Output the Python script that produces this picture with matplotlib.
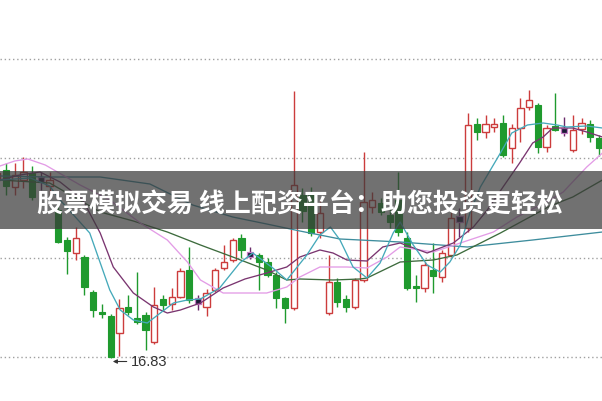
import matplotlib
matplotlib.use('Agg')
import matplotlib.pyplot as plt
from matplotlib.patches import Rectangle
import numpy as np

# ---------------- data ----------------
first_index = -1
opens = [20.39, 20.59, 20.25, 20.39, 20.53, 20.45, 20.27, 19.79, 19.19, 18.93, 18.85,
         18.15, 17.75, 17.67, 17.33, 17.85, 17.63, 17.69, 17.15, 18.01, 17.91,
         18.05, 18.59, 18.03, 17.85, 18.19, 18.63, 18.79, 19.23, 18.95, 18.89,
         18.75, 18.49, 18.03, 17.83, 20.09, 20.09, 19.35, 17.73, 18.35, 18.01,
         17.85, 18.39, 19.85, 19.93, 19.69, 19.99, 19.23, 18.27, 18.23, 18.59,
         18.45, 18.89, 19.67, 19.43, 21.51, 21.35, 21.45, 21.53, 21.03, 21.43,
         21.85, 21.89, 21.05, 21.47, 21.43, 20.99, 21.41, 21.51, 21.23]
highs = [20.63, 20.73, 20.73, 20.85, 20.67, 20.55, 20.55, 19.89, 19.25, 19.45, 18.89,
         18.19, 17.91, 17.71, 18.01, 18.09, 18.55, 17.75, 18.25, 18.09, 18.23,
         18.63, 19.05, 18.09, 18.21, 18.63, 19.09, 19.23, 19.31, 19.05, 18.93,
         18.83, 18.55, 18.05, 22.17, 20.23, 20.25, 19.99, 18.89, 18.43, 18.09,
         18.43, 20.95, 20.15, 20.03, 19.83, 20.55, 19.35, 18.49, 18.75, 19.13,
         18.99, 19.75, 19.83, 21.73, 21.63, 21.69, 21.63, 21.69, 21.51, 22.03,
         22.19, 21.93, 21.49, 22.13, 21.65, 21.69, 21.63, 21.59, 21.29]
lows = [20.29, 20.09, 20.09, 20.23, 19.99, 20.19, 20.09, 19.13, 18.51, 18.79, 18.09,
        17.65, 17.63, 16.83, 16.87, 17.69, 17.51, 16.99, 17.11, 17.77, 17.79,
        18.03, 17.93, 17.79, 17.67, 18.15, 18.59, 18.75, 18.83, 18.81, 18.19,
        18.45, 17.83, 17.53, 17.79, 19.55, 19.27, 19.23, 17.69, 17.85, 17.75,
        17.81, 18.35, 19.73, 19.69, 19.43, 19.27, 18.19, 17.95, 18.15, 18.13,
        18.35, 18.85, 19.25, 19.35, 21.19, 21.23, 21.35, 20.85, 20.73, 21.15,
        21.79, 20.93, 20.95, 21.37, 21.27, 20.95, 21.31, 21.15, 20.87]
closes = [20.53, 20.27, 20.49, 20.55, 20.05, 20.35, 20.39, 19.15, 18.97, 19.23, 18.25,
          17.79, 17.71, 16.85, 17.83, 17.75, 17.55, 17.39, 17.89, 17.89, 18.05,
          18.57, 17.99, 17.91, 18.13, 18.59, 18.75, 19.19, 18.99, 18.85, 18.75,
          18.49, 18.03, 17.83, 20.29, 19.77, 19.33, 19.73, 18.35, 17.95, 17.85,
          18.39, 19.95, 19.99, 19.75, 19.55, 19.35, 18.23, 18.23, 18.69, 18.47,
          18.93, 19.63, 19.55, 21.49, 21.35, 21.51, 21.51, 20.89, 21.43, 21.83,
          21.99, 21.05, 21.43, 21.39, 21.33, 21.39, 21.53, 21.25, 21.03]
marked_days = [4, 22, 28, 52, 64]

ma5_x = [-0.7, 2.8, 5.0, 6.2, 9.6, 11.9, 13.1, 14.6, 16.2, 17.7, 19.2, 20.8, 22.3, 24.5,
         26.8, 28.3, 30.6, 32.2, 34.5, 36.0, 37.2, 38.3, 39.8, 41.4, 42.9, 44.4, 45.2,
         46.7, 48.3, 49.8, 50.9, 52.1, 53.2, 54.4, 56.7, 58.0, 59.8, 61.6, 63.2, 64.3,
         66.6, 68.4]
ma5_y = [20.39, 20.43, 20.27, 19.99, 19.33, 18.19, 17.79, 17.59, 17.53, 17.73, 17.93,
         17.99, 18.01, 18.23, 18.73, 18.93, 18.63, 18.39, 18.89, 19.29, 19.45, 19.19,
         18.65, 18.43, 18.73, 19.33, 19.55, 19.09, 18.69, 18.55, 18.75, 19.09, 19.73,
         20.25, 20.93, 21.33, 21.49, 21.53, 21.49, 21.45, 21.47, 21.43]

ma10_x = [-0.7, 1.6, 3.9, 6.2, 8.8, 10.8, 12.3, 14.6, 16.9, 18.5, 20.0, 22.3, 24.9, 27.4,
          29.9, 32.2, 33.7, 36.0, 37.5, 39.1, 41.4, 43.2, 45.2, 48.3, 51.3, 53.6, 55.2,
          57.0, 58.9, 60.4, 61.6, 62.7, 65.0, 66.6, 68.4]
ma10_y = [20.39, 20.49, 20.55, 20.35, 19.99, 19.33, 18.65, 18.13, 17.85, 17.73, 17.79,
          17.93, 18.23, 18.41, 18.53, 18.65, 18.85, 18.99, 18.93, 18.79, 18.77, 19.05,
          19.13, 18.93, 19.13, 19.45, 19.79, 20.25, 20.73, 21.13, 21.25, 21.43, 21.43,
          21.35, 21.25]

ma20_x = [-0.7, 1.0, 2.5, 4.5, 8.5, 11.9, 15.4, 18.5, 20.8, 22.3, 24.9, 29.9, 32.2, 33.7,
          36.0, 39.1, 41.4, 43.7, 45.2, 49.0, 52.1, 55.9, 58.6, 62.4, 63.9, 66.6, 68.4]
ma20_y = [20.67, 20.77, 20.81, 20.69, 20.29, 19.99, 19.53, 19.19, 18.75, 18.39, 18.13,
          18.13, 18.25, 18.45, 18.65, 18.65, 18.63, 18.85, 19.05, 18.95, 19.13, 19.35,
          19.65, 19.99, 20.15, 20.65, 20.93]

ma30_x = [-0.7, 5.0, 10.8, 14.6, 18.5, 22.3, 26.0, 29.9, 32.2, 33.7, 37.5, 40.6, 41.4,
          45.2, 49.0, 51.7, 56.7, 62.4, 65.0, 68.4]
ma30_y = [20.39, 20.33, 19.75, 19.57, 19.35, 19.09, 18.85, 18.59, 18.39, 18.41, 18.39,
          18.41, 18.43, 18.75, 18.79, 18.89, 19.33, 19.87, 20.05, 20.39]

ma60_x = [-0.7, 5.0, 10.8, 16.5, 21.4, 26.0, 29.9, 33.7, 38.3, 45.2, 52.9, 60.4, 68.4]
ma60_y = [20.47, 20.45, 20.45, 20.31, 19.89, 19.65, 19.51, 19.37, 19.21, 19.15, 19.05,
          19.19, 19.35]

grid_levels = [16.85, 18.83, 20.83, 22.81]
title = "股票模拟交易 线上配资平台：助您投资更轻松"

# ---------------- drawing ----------------
fig = plt.figure(figsize=(6.02, 4.01), dpi=100)
ax = fig.add_axes([0, 0, 1, 1])
ax.set_xlim(-0.69, 68.35)
ax.set_ylim(15.97, 23.99)
ax.axis('off')

for g in grid_levels:
    ax.axhline(g, color='#a0a0a0', lw=1.0, ls=(0, (1, 2)), zorder=1)

RED = '#cc3c3c'
GREEN = '#1f9a2e'
w = 0.72
idx = np.arange(len(opens)) + first_index
for i, o, h, l, c in zip(idx, opens, highs, lows, closes):
    lo_b, hi_b = min(o, c), max(o, c)
    hgt = max(hi_b - lo_b, 0.03)
    if i in marked_days:
        ax.vlines(i, l, h, color='#6a2a6a', lw=1.0, zorder=2)
        ax.add_patch(Rectangle((i - w / 2, lo_b), w, hgt, facecolor='#1a1a36',
                               edgecolor='#c47ac4', lw=0.9, zorder=2.5))
    elif c >= o:
        ax.vlines(i, l, lo_b, color=RED, lw=1.0, zorder=2)
        ax.vlines(i, hi_b, h, color=RED, lw=1.0, zorder=2)
        ax.add_patch(Rectangle((i - w / 2, lo_b), w, hgt, facecolor='white',
                               edgecolor=RED, lw=1.0, zorder=2.5))
    else:
        ax.vlines(i, l, h, color=GREEN, lw=1.0, zorder=2)
        ax.add_patch(Rectangle((i - w / 2, lo_b), w, hgt, facecolor=GREEN,
                               edgecolor=GREEN, lw=0.8, zorder=2.5))

ax.plot(ma60_x, ma60_y, color='#3e8d9d', lw=0.95, zorder=3)
ax.plot(ma30_x, ma30_y, color='#3d6b3d', lw=0.95, zorder=3)
ax.plot(ma20_x, ma20_y, color='#e39ce6', lw=0.95, zorder=3)
ax.plot(ma10_x, ma10_y, color='#7a3570', lw=0.95, zorder=3)
ax.plot(ma5_x, ma5_y, color='#45a9ba', lw=0.95, zorder=3)

# lowest price annotation
lo_i = int(np.argmin(lows))
ax.annotate(f"{lows[lo_i]:.2f}", xy=(idx[lo_i] + 0.25, lows[lo_i] - 0.07),
            xytext=(13, 0), textcoords='offset points', ha='left', va='center',
            fontsize=10.5, family='Liberation Sans', color='#333333',
            arrowprops=dict(arrowstyle='-|>', color='#333333', lw=0.8,
                            mutation_scale=6, shrinkA=1, shrinkB=0), zorder=4)

# title banner
ax.add_patch(Rectangle((0, 1 - 229 / 401), 1, 58 / 401, transform=ax.transAxes,
                       facecolor='#3a3a3a', alpha=0.72, edgecolor='none', zorder=5))
ax.text(0.499, 1 - 205 / 401, title, transform=ax.transAxes, ha='center', va='center',
        color='white', fontsize=18.7, fontweight='bold',
        family=['Noto Sans CJK SC', 'DejaVu Sans'], zorder=6)

fig.savefig('out.png', dpi=100)
